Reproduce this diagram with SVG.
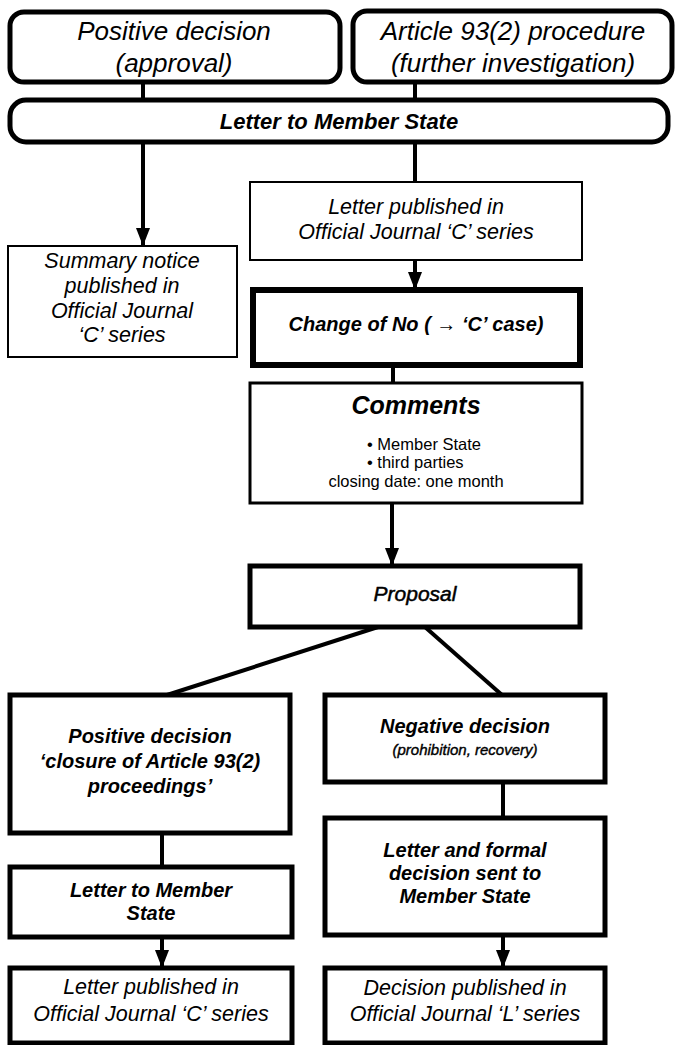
<svg xmlns="http://www.w3.org/2000/svg" width="681" height="1045" viewBox="0 0 681 1045">
<style>
.b{fill:#fff;stroke:#000;stroke-width:5}
.thin{fill:#fff;stroke:#000;stroke-width:2}
.mid{fill:#fff;stroke:#000;stroke-width:3}
.c{stroke:#000;stroke-width:4;fill:none}
text{font-family:"Liberation Sans",Arial,sans-serif;fill:#000;text-anchor:middle}
.it{font-style:italic}
.bi{font-style:italic;font-weight:bold}
</style>
<defs>
<marker id="ah" markerUnits="userSpaceOnUse" markerWidth="14" markerHeight="18" refX="7" refY="18" orient="0" viewBox="0 0 14 18"><path d="M0,0 L14,0 L7,18 Z" fill="#000"/></marker>
</defs>
<g id="connectors">
<line class="c" x1="143" y1="82" x2="143" y2="100"/>
<line class="c" x1="415" y1="82" x2="415" y2="100"/>
<line class="c" x1="143" y1="142" x2="143" y2="246" marker-end="url(#ah)"/>
<line class="c" x1="415" y1="142" x2="415" y2="182"/>
<line class="c" x1="415" y1="260" x2="415" y2="290" marker-end="url(#ah)"/>
<line class="c" x1="393" y1="365" x2="393" y2="383"/>
<line class="c" x1="392" y1="503" x2="392" y2="566" marker-end="url(#ah)"/>
<line class="c" x1="378" y1="627" x2="167" y2="695"/>
<line class="c" x1="425" y1="627" x2="502" y2="695"/>
<line class="c" x1="162" y1="833" x2="162" y2="867"/>
<line class="c" x1="162" y1="937" x2="162" y2="968" marker-end="url(#ah)"/>
<line class="c" x1="503" y1="782" x2="503" y2="818"/>
<line class="c" x1="503" y1="935" x2="503" y2="968" marker-end="url(#ah)"/>
</g>
<g id="n1"><rect class="b" x="10" y="12" width="330" height="70" rx="14"/>
<text class="it" font-size="26" x="174" y="40">Positive decision</text>
<text class="it" font-size="26" x="174" y="72">(approval)</text></g>
<g id="n2"><rect class="b" x="353" y="11" width="319" height="71" rx="14"/>
<text class="it" font-size="26" x="513" y="40">Article 93(2) procedure</text>
<text class="it" font-size="26" x="513" y="72">(further investigation)</text></g>
<g id="n3"><rect class="b" x="10" y="100" width="658" height="42" rx="16"/>
<text class="bi" font-size="22" x="339" y="129">Letter to Member State</text></g>
<g id="n4"><rect class="thin" x="8" y="246" width="229" height="111"/>
<text class="it" font-size="21.5" x="122" y="268">Summary notice</text>
<text class="it" font-size="21.5" x="122" y="293">published in</text>
<text class="it" font-size="21.5" x="122" y="318">Official Journal</text>
<text class="it" font-size="21.5" x="122" y="342">‘C’ series</text></g>
<g id="n5"><rect class="thin" x="250" y="182" width="332" height="78"/>
<text class="it" font-size="21.5" x="416" y="214">Letter published in</text>
<text class="it" font-size="21.5" x="416" y="239">Official Journal ‘C’ series</text></g>
<g id="n6"><rect class="b" style="stroke-width:6" x="253" y="290" width="327" height="75"/>
<text class="bi" font-size="20" x="416" y="331">Change of No ( → ‘C’ case)</text></g>
<g id="n7"><rect class="mid" x="250" y="383" width="332" height="120"/>
<text class="bi" font-size="25" x="416" y="414">Comments</text>
<text font-size="16.5" x="367" y="450" style="text-anchor:start">• Member State</text>
<text font-size="16.5" x="367" y="468" style="text-anchor:start">• third parties</text>
<text font-size="16.5" x="416" y="487">closing date: one month</text></g>
<g id="n8"><rect class="b" x="250" y="566" width="330" height="61"/>
<text class="it" font-size="21" x="415" y="601" stroke="#000" stroke-width="0.5">Proposal</text></g>
<g id="n9"><rect class="b" x="10" y="695" width="280" height="138"/>
<text class="bi" font-size="20" x="150" y="743">Positive decision</text>
<text class="bi" font-size="20" x="150" y="768">‘closure of Article 93(2)</text>
<text class="bi" font-size="20" x="150" y="793">proceedings’</text></g>
<g id="n10"><rect class="b" x="325" y="695" width="280" height="87"/>
<text class="bi" font-size="20" x="465" y="733">Negative decision</text>
<text class="it" font-size="15" x="465" y="755" stroke="#000" stroke-width="0.4">(prohibition, recovery)</text></g>
<g id="n11"><rect class="b" x="10" y="867" width="282" height="70"/>
<text class="bi" font-size="20" x="151" y="897">Letter to Member</text>
<text class="bi" font-size="20" x="151" y="920">State</text></g>
<g id="n12"><rect class="b" x="325" y="818" width="280" height="117"/>
<text class="bi" font-size="20" x="465" y="857">Letter and formal</text>
<text class="bi" font-size="20" x="465" y="880">decision sent to</text>
<text class="bi" font-size="20" x="465" y="903">Member State</text></g>
<g id="n13"><rect class="b" x="10" y="968" width="282" height="75"/>
<text class="it" font-size="21.5" x="151" y="994">Letter published in</text>
<text class="it" font-size="21.5" x="151" y="1021">Official Journal ‘C’ series</text></g>
<g id="n14"><rect class="b" x="325" y="968" width="280" height="75"/>
<text class="it" font-size="21.5" x="465" y="995">Decision published in</text>
<text class="it" font-size="21.5" x="465" y="1021">Official Journal ‘L’ series</text></g>
</svg>
